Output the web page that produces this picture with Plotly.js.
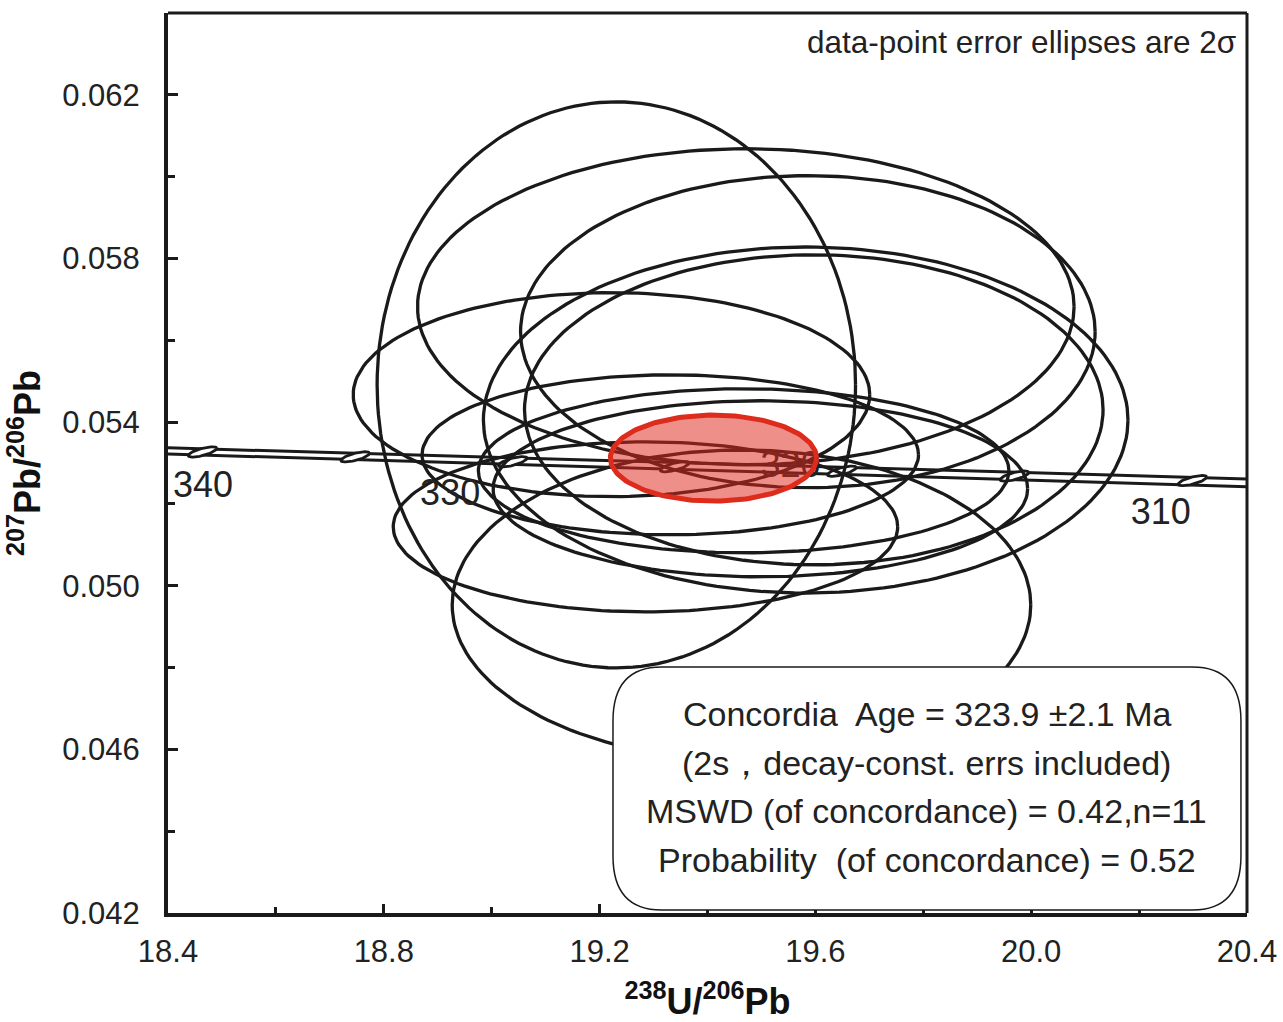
<!DOCTYPE html>
<html>
<head>
<meta charset="utf-8">
<script src="https://cdn.plot.ly/plotly-3.0.1.min.js"></script>
<style>html,body{margin:0;padding:0;background:#fff;}#chart{width:1283px;height:1022px;}</style>
</head>
<body>
<div id="chart"></div>
<script>
// ---- data-point error ellipses (2 sigma): centre, half-widths, correlation ----
const ellCx  = [19.231, 19.471, 19.586, 19.582, 19.597, 19.222, 19.331, 19.467, 19.498, 19.285, 19.463];
const ellCy  = [0.05491, 0.05682, 0.05621, 0.05405, 0.05430, 0.05467, 0.05320, 0.05281, 0.05237, 0.05144, 0.04953];
const ellSx  = [0.4434, 0.6085, 0.5325, 0.5974, 0.5362, 0.4787, 0.4601, 0.4917, 0.4954, 0.4675, 0.5362];
const ellSy  = [0.006919, 0.003863, 0.003814, 0.00423, 0.00379, 0.002494, 0.001956, 0.002005, 0.002152, 0.002078, 0.00379];
const ellRho = [0, 0, 0, 0, 0, 0, 0, 0, 0, 0, 0];

// ---- concordia age ellipse ----
const ageCx = 19.411, ageCy = 0.05312, ageSx = 0.1911, ageSy = 0.001051, ageRho = 0;

// ---- concordia band (decay-constant errors) ----
const bandX  = [18.4, 20.4];
const bandUp = [0.05337, 0.05261];
const bandLo = [0.05322, 0.05242];

// ---- age markers on concordia ----
const markAge = [340, 335, 330, 325, 320, 315, 310];
const markX   = [18.464, 18.747, 19.039, 19.339, 19.649, 19.969, 20.299];
const markY   = [0.05327, 0.05315, 0.05303, 0.05291, 0.05280, 0.05268, 0.05257];
const markSx  = 0.0265, markSy = 0.000125, markRho = 0.7;

// ---- age labels ----
const labText = ["340", "330", "320", "310"];
const labX    = [18.465, 18.923, 19.554, 20.240];
const labY    = [0.05240, 0.05220, 0.05288, 0.05174];

// ---- tick settings ----
const xTicks = [18.4, 18.8, 19.2, 19.6, 20.0, 20.4];
const yTicks = [0.042, 0.046, 0.050, 0.054, 0.058, 0.062];

const statLines = [
  "Concordia  Age = 323.9 \u00B12.1 Ma",
  "(2s\uFF0Cdecay-const. errs included)",
  "MSWD (of concordance) = 0.42,n=11",
  "Probability  (of concordance) = 0.52"
];

function ellipsePts(cx, cy, sx, sy, rho, n) {
  n = n || 180;
  const xs = [], ys = [];
  const k = Math.sqrt(1 - rho * rho);
  for (let i = 0; i <= n; i++) {
    const t = 2 * Math.PI * i / n;
    xs.push(cx + sx * Math.cos(t));
    ys.push(cy + sy * (rho * Math.cos(t) + k * Math.sin(t)));
  }
  return {x: xs, y: ys};
}

const FONT = "Liberation Sans, Arial, Helvetica, sans-serif";
const INK = "#1a1a1a";
const traces = [];

// band
traces.push({x: bandX, y: bandUp, mode: "lines", line: {color: INK, width: 3}, hoverinfo: "skip"});
traces.push({x: bandX, y: bandLo, mode: "lines", line: {color: INK, width: 3}, hoverinfo: "skip"});
// markers
for (let i = 0; i < markX.length; i++) {
  const p = ellipsePts(markX[i], markY[i], markSx, markSy, markRho, 60);
  traces.push({x: p.x, y: p.y, mode: "lines", fill: "toself", fillcolor: "#ffffff",
    line: {color: INK, width: 2.8}, name: markAge[i] + " Ma", hoverinfo: "skip"});
}
// data ellipses
for (let i = 0; i < ellCx.length; i++) {
  const p = ellipsePts(ellCx[i], ellCy[i], ellSx[i], ellSy[i], ellRho[i]);
  traces.push({x: p.x, y: p.y, mode: "lines", line: {color: INK, width: 3.3}, hoverinfo: "skip"});
}
// age labels
traces.push({x: labX, y: labY, mode: "text", text: labText,
  textfont: {family: FONT, size: 36, color: "#222"}, textposition: "middle center", hoverinfo: "skip"});
// concordia age ellipse
const ag = ellipsePts(ageCx, ageCy, ageSx, ageSy, ageRho);
traces.push({x: ag.x, y: ag.y, mode: "lines", fill: "toself", fillcolor: "rgba(222,40,30,0.52)",
  line: {color: "#dd2b1c", width: 5}, hoverinfo: "skip"});

// rounded stats box (paper coords)
const bx0 = 0.4124, bx1 = 0.9944, by0 = 0.0033, by1 = 0.2733, rx = 0.045, ry = 0.06;
const boxPath = `M ${bx0+rx},${by1} L ${bx1-rx},${by1} Q ${bx1},${by1} ${bx1},${by1-ry} L ${bx1},${by0+ry} Q ${bx1},${by0} ${bx1-rx},${by0} L ${bx0+rx},${by0} Q ${bx0},${by0} ${bx0},${by0+ry} L ${bx0},${by1-ry} Q ${bx0},${by1} ${bx0+rx},${by1} Z`;

const statY = [0.2211, 0.1667, 0.1133, 0.0589];
const annotations = statLines.map((t, i) => ({
  xref: "paper", yref: "paper", x: 0.7034, y: statY[i], text: t, showarrow: false,
  xanchor: "center", yanchor: "middle", font: {family: FONT, size: 34, color: "#222"}
}));
annotations.push({xref: "paper", yref: "paper", x: 0.9917, y: 0.9678,
  text: "data-point error ellipses are 2\u03C3", showarrow: false, xanchor: "right", yanchor: "middle",
  font: {family: FONT, size: 31.5, color: "#222"}});

const layout = {
  width: 1283, height: 1022,
  margin: {l: 168, r: 36, t: 13, b: 109},
  paper_bgcolor: "#fff", plot_bgcolor: "#fff",
  showlegend: false,
  xaxis: {
    range: [18.4, 20.4], tickmode: "array", tickvals: xTicks, ticktext: xTicks.map(v => v.toFixed(1)),
    ticks: "inside", ticklen: 9, tickwidth: 3, tickcolor: INK,
    minor: {tickmode: "linear", tick0: 18.4, dtick: 0.2, ticks: "inside", ticklen: 6, tickwidth: 3, tickcolor: INK},
    showline: true, linewidth: 4, linecolor: INK, showgrid: false, zeroline: false,
    ticklabelstandoff: 8,
    tickfont: {family: FONT, size: 31, color: "#222"},
    title: {text: "<b><sup>238</sup>U/<sup>206</sup>Pb</b>", font: {family: FONT, size: 36, color: "#111"}, standoff: 24}
  },
  yaxis: {
    range: [0.042, 0.064], tickmode: "array", tickvals: yTicks, ticktext: yTicks.map(v => v.toFixed(3)),
    ticks: "inside", ticklen: 10, tickwidth: 3, tickcolor: INK,
    minor: {tickmode: "linear", tick0: 0.042, dtick: 0.002, ticks: "inside", ticklen: 7, tickwidth: 3, tickcolor: INK},
    showline: true, linewidth: 4, linecolor: INK, showgrid: false, zeroline: false,
    ticklabelstandoff: 18,
    tickfont: {family: FONT, size: 31, color: "#222"},
    title: {text: "<b><sup>207</sup>Pb/<sup>206</sup>Pb</b>", font: {family: FONT, size: 36, color: "#111"}, standoff: 12}
  },
  shapes: [
    {type: "line", xref: "paper", yref: "paper", x0: 0, x1: 1, y0: 1, y1: 1, line: {color: INK, width: 3}},
    {type: "line", xref: "paper", yref: "paper", x0: 1, x1: 1, y0: 0, y1: 1, line: {color: INK, width: 3}},
    {type: "path", xref: "paper", yref: "paper", path: boxPath, fillcolor: "#ffffff",
      line: {color: INK, width: 1.5}, layer: "above"}
  ],
  annotations: annotations
};

Plotly.newPlot("chart", traces, layout, {staticPlot: true, displayModeBar: false});
</script>
</body>
</html>
